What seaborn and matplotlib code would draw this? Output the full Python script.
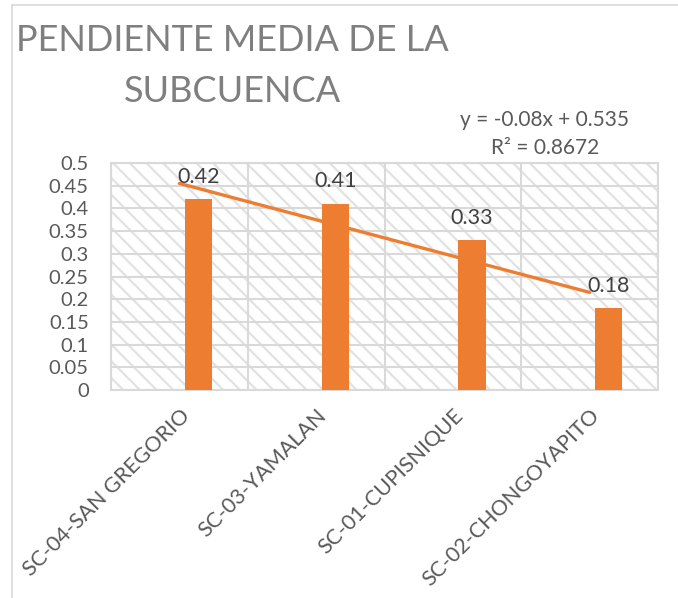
# Pendiente media de la subcuenca - bar chart with linear trendline
import numpy as np
import pandas as pd
import matplotlib
matplotlib.use('Agg')
import matplotlib.pyplot as plt
import seaborn as sns
from matplotlib.patches import Rectangle

# --- data ---
subcuencas = ['SC-04-SAN GREGORIO', 'SC-03-YAMALAN', 'SC-01-CUPISNIQUE', 'SC-02-CHONGOYAPITO']
pendiente = [0.42, 0.41, 0.33, 0.18]
y_ticks = [0, 0.05, 0.1, 0.15, 0.2, 0.25, 0.3, 0.35, 0.4, 0.45, 0.5]
titulo = ['PENDIENTE MEDIA DE LA', 'SUBCUENCA']

df = pd.DataFrame({'subcuenca': subcuencas, 'pendiente': pendiente})

# linear trend like Excel (x = 1..n)
x_num = np.arange(1, len(pendiente) + 1)
slope, intercept = np.polyfit(x_num, pendiente, 1)
fit = slope * x_num + intercept
r2 = 1 - np.sum((np.array(pendiente) - fit) ** 2) / np.sum((np.array(pendiente) - np.mean(pendiente)) ** 2)

# --- style ---
sns.set_theme(style='white')
plt.rcParams['font.family'] = ['Lato', 'DejaVu Sans']
plt.rcParams['hatch.linewidth'] = 1.6

orange = '#ED7D31'
grid_c = '#d9d9d9'
text_c = '#595959'

fig = plt.figure(figsize=(6.78, 5.98), dpi=100)
ax = fig.add_axes([111 / 678, 208 / 598, 547 / 678, 227 / 598])

# hatched plot area background
ax.add_patch(Rectangle((0, 0), 1, 1, transform=ax.transAxes, facecolor='white',
                       edgecolor='#e2e2e2', hatch='\\' * 2, lw=0, zorder=0))

sns.barplot(data=df, x='subcuenca', y='pendiente', color=orange, saturation=1,
            width=0.2, linewidth=0, ax=ax, zorder=3)
# Excel leaves the bar offset to the right of the category centre
for p in ax.containers[0]:
    p.set_x(p.get_x() + 0.14)

ax.bar_label(ax.containers[0], labels=[f'{v:g}' for v in pendiente], padding=9,
             fontsize=15.5, color='#404040', zorder=5)

sns.lineplot(x=np.arange(len(pendiente)), y=fit, color=orange, linewidth=2.4, ax=ax, zorder=4)

ax.set_xlim(-0.5, len(subcuencas) - 0.5)
ax.set_ylim(0, 0.5)
ax.set_yticks(y_ticks)
ax.set_yticklabels([f'{t:g}' for t in y_ticks], fontsize=14.5, color=text_c)
ax.set_xticks(range(len(subcuencas)))
ax.set_xticklabels(subcuencas, rotation=45, ha='right', rotation_mode='anchor',
                   fontsize=15.5, color=text_c)
ax.tick_params(axis='y', length=0, pad=16)
ax.tick_params(axis='x', length=0, pad=11)
ax.set_xlabel('')
ax.set_ylabel('')

# gridlines: horizontal at every tick, vertical at category boundaries
for t in y_ticks:
    ax.axhline(t, color=grid_c, lw=1.5, zorder=1)
for b in np.arange(-0.5, len(subcuencas), 1):
    ax.axvline(b, color=grid_c, lw=1.5, zorder=1)
for s in ax.spines.values():
    s.set_color(grid_c)
    s.set_linewidth(1.5)

# chart title (two centred lines) and trendline equation
fig.text(232 / 678, 1 - 51 / 598, titulo[0], ha='center', va='baseline',
         fontsize=26, color='#7f7f7f')
fig.text(232 / 678, 1 - 102 / 598, titulo[1], ha='center', va='baseline',
         fontsize=26, color='#7f7f7f')
fig.text(545 / 678, 1 - 120 / 598, f'y = {slope:.2f}x + {intercept:.3f}', ha='center', va='center',
         fontsize=15, color=text_c)
fig.text(545 / 678, 1 - 148 / 598, f'R² = {r2:.4f}', ha='center', va='center',
         fontsize=15, color=text_c)

# outer chart border (left and top visible)
fig.add_artist(plt.Line2D([11.5 / 678, 11.5 / 678], [0, 1 - 5 / 598], color=grid_c, lw=1.2))
fig.add_artist(plt.Line2D([11.5 / 678, 1], [1 - 5 / 598, 1 - 5 / 598], color=grid_c, lw=1.2))

fig.savefig('out.png', dpi=100)
